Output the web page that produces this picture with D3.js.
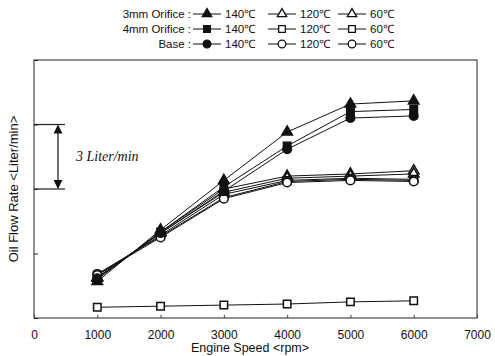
<!DOCTYPE html>
<html>
<head>
<meta charset="utf-8">
<script src="https://cdn.jsdelivr.net/npm/d3@7"></script>
<style>
  body { margin: 0; background: #fff; }
  svg { display: block; font-family: "Liberation Sans", Arial, sans-serif; }
</style>
</head>
<body>
<div id="chart"></div>
<script>
// engine speeds (rpm)
const speeds = [1000, 2000, 3000, 4000, 5000, 6000];

// oil flow rate (Liter/min)
const orifice3_140 = [1.7, 4.1, 6.4, 8.65, 9.95, 10.1];
const orifice3_120 = [1.85, 4.0, 6.0, 6.6, 6.7, 6.85];
const orifice3_60 = [1.9, 3.95, 5.85, 6.5, 6.6, 6.7];
const orifice4_140 = [1.8, 4.0, 6.1, 8.0, 9.6, 9.7];
const orifice4_120 = [2.0, 3.85, 5.75, 6.4, 6.5, 6.45];
const orifice4_60 = [0.5, 0.55, 0.6, 0.65, 0.75, 0.8];
const base_140 = [1.85, 3.95, 5.9, 7.85, 9.3, 9.4];
const base_120 = [2.05, 3.8, 5.6, 6.35, 6.45, 6.4];
const base_60 = [2.0, 3.75, 5.55, 6.3, 6.4, 6.35];

const groupNames = ["3mm Orifice", "4mm Orifice", "Base"];
const tempLabels = ["140\u2103", "120\u2103", "60\u2103"];
const xTicks = [0, 1000, 2000, 3000, 4000, 5000, 6000, 7000];
const yTicks = [0, 3, 6, 9, 12];
const bracket = [6, 9];

const series = [
  { group: 0, temp: 0, values: orifice3_140, shape: d3.symbolTriangle, filled: true },
  { group: 0, temp: 1, values: orifice3_120, shape: d3.symbolTriangle, filled: false },
  { group: 0, temp: 2, values: orifice3_60, shape: d3.symbolTriangle, filled: false },
  { group: 1, temp: 0, values: orifice4_140, shape: d3.symbolSquare, filled: true },
  { group: 1, temp: 1, values: orifice4_120, shape: d3.symbolSquare, filled: false },
  { group: 1, temp: 2, values: orifice4_60, shape: d3.symbolSquare, filled: false },
  { group: 2, temp: 0, values: base_140, shape: d3.symbolCircle, filled: true },
  { group: 2, temp: 1, values: base_120, shape: d3.symbolCircle, filled: false },
  { group: 2, temp: 2, values: base_60, shape: d3.symbolCircle, filled: false }
];

const W = 495, H = 356;
const margin = { top: 60, right: 18, bottom: 38, left: 34 };
const width = W - margin.left - margin.right;
const height = H - margin.top - margin.bottom;

const symSize = s => s === d3.symbolTriangle ? 48 : (s === d3.symbolSquare ? 56 : 58);

const svg = d3.select("#chart")
  .append("svg")
  .attr("width", W)
  .attr("height", H);

const g = svg.append("g")
  .attr("transform", "translate(" + margin.left + "," + margin.top + ")");

const x = d3.scaleLinear().domain([0, 7000]).range([0, width]);
const y = d3.scaleLinear().domain([0, 12]).range([height, 0]);

// frame
g.append("rect")
  .attr("width", width)
  .attr("height", height)
  .attr("fill", "none")
  .attr("stroke", "#222")
  .attr("stroke-width", 1);

// x axis
const xAxis = g.append("g")
  .attr("transform", "translate(0," + height + ")")
  .call(d3.axisBottom(x).tickValues(xTicks).tickSize(-3).tickPadding(12).tickFormat(d3.format("d")));
xAxis.select(".domain").remove();
xAxis.selectAll("line").attr("stroke", "#444");
xAxis.selectAll("text")
  .attr("font-size", 12)
  .attr("fill", "#111")
  .attr("font-family", "Liberation Sans, Arial, sans-serif");

// y axis (no labels)
const yAxis = g.append("g")
  .call(d3.axisLeft(y).tickValues(yTicks).tickSize(-4).tickFormat(""));
yAxis.select(".domain").remove();
yAxis.selectAll("line").attr("stroke", "#222");

// axis titles
svg.append("text")
  .attr("x", 250)
  .attr("y", 352)
  .attr("text-anchor", "middle")
  .attr("font-size", 12.5)
  .attr("fill", "#111")
  .text("Engine Speed <rpm>");

svg.append("text")
  .attr("transform", "translate(18," + (margin.top + y(6)) + ") rotate(-90)")
  .attr("text-anchor", "middle")
  .attr("font-size", 13)
  .attr("fill", "#111")
  .text("Oil Flow Rate <Liter/min>");

// 3 Liter/min bracket
const defs = svg.append("defs");
defs.append("marker")
  .attr("id", "arr")
  .attr("viewBox", "0 0 10 10")
  .attr("refX", 9).attr("refY", 5)
  .attr("markerWidth", 9).attr("markerHeight", 9)
  .attr("markerUnits", "userSpaceOnUse")
  .attr("orient", "auto-start-reverse")
  .append("path")
  .attr("d", "M0,0L10,5L0,10Z")
  .attr("fill", "#111");

bracket.forEach(v => {
  g.append("line")
    .attr("x1", 0).attr("x2", 31)
    .attr("y1", y(v)).attr("y2", y(v))
    .attr("stroke", "#222").attr("stroke-width", 1.2);
});
g.append("line")
  .attr("x1", 24).attr("x2", 24)
  .attr("y1", y(bracket[0]) - 1).attr("y2", y(bracket[1]) + 1)
  .attr("stroke", "#111").attr("stroke-width", 1.2)
  .attr("marker-start", "url(#arr)")
  .attr("marker-end", "url(#arr)");
g.append("text")
  .attr("x", 42)
  .attr("y", y((bracket[0] + bracket[1]) / 2) + 4)
  .attr("font-family", "Liberation Serif, Times New Roman, serif")
  .attr("font-style", "italic")
  .attr("font-size", 14)
  .attr("fill", "#111")
  .text("3 Liter/min");

// lines
const line = d3.line()
  .x((d, i) => x(speeds[i]))
  .y(d => y(d));

g.selectAll(".series")
  .data(series)
  .enter()
  .append("path")
  .attr("d", d => line(d.values))
  .attr("fill", "none")
  .attr("stroke", "#111")
  .attr("stroke-width", 1);

// markers: open first, filled on top
const ordered = series.slice().sort((a, b) => a.filled - b.filled);
ordered.forEach(s => {
  g.selectAll(null)
    .data(s.values)
    .enter()
    .append("path")
    .attr("transform", (d, i) => "translate(" + x(speeds[i]) + "," + y(d) + ")")
    .attr("d", d3.symbol().type(s.shape).size(symSize(s.shape)))
    .attr("fill", s.filled ? "#111" : "#fff")
    .attr("stroke", "#111")
    .attr("stroke-width", 1.5);
});

// legend
const legendRows = [14, 29, 44];
const legendCols = [193, 268, 338];
const legend = svg.append("g").attr("font-size", 11.5).attr("fill", "#111");

groupNames.forEach((name, gi) => {
  legend.append("text")
    .attr("x", 191)
    .attr("y", legendRows[gi] + 4)
    .attr("text-anchor", "end")
    .text(name + " :");
});

series.forEach(s => {
  const cy = legendRows[s.group];
  const x0 = legendCols[s.temp];
  legend.append("line")
    .attr("x1", x0).attr("x2", x0 + 28)
    .attr("y1", cy).attr("y2", cy)
    .attr("stroke", "#111").attr("stroke-width", 1);
  legend.append("path")
    .attr("transform", "translate(" + (x0 + 14) + "," + cy + ")")
    .attr("d", d3.symbol().type(s.shape).size(symSize(s.shape) * 0.8))
    .attr("fill", s.filled ? "#111" : "#fff")
    .attr("stroke", "#111")
    .attr("stroke-width", 1.3);
  legend.append("text")
    .attr("x", x0 + 32)
    .attr("y", cy + 4)
    .text(tempLabels[s.temp]);
});
</script>
</body>
</html>
